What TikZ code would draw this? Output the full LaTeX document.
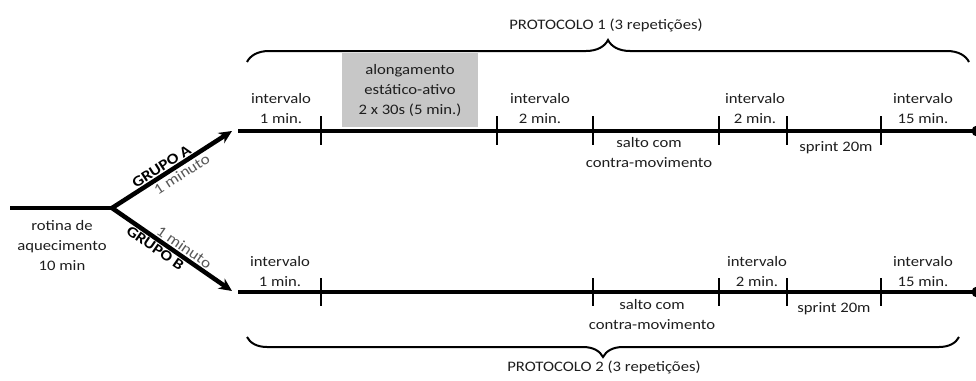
\documentclass[tikz,border=0pt]{standalone}
\usepackage{fontspec}
\setmainfont{Carlito}[FakeStretch=1.15]
\usetikzlibrary{arrows.meta,decorations.pathreplacing}
\definecolor{boxgray}{RGB}{199,199,199}
\definecolor{txtgray}{RGB}{30,30,30}

\begin{document}
\begin{tikzpicture}[x=1pt,y=-1pt,
    lbl/.style={font=\fontsize{14.5}{20}\selectfont, text=txtgray, align=center, inner sep=0pt},
    grp/.style={font=\fontsize{15}{17}\selectfont\bfseries, inner sep=1pt},
    sub/.style={font=\fontsize{15}{17}\selectfont, text=black!65, inner sep=1.5pt},
    timeline/.style={line width=4.5pt},
    tick/.style={line width=2.5pt},
    grparrow/.style={line width=4.5pt, line cap=round, -{Stealth[length=13pt,width=12pt]}},
    brace/.style={decorate, decoration={brace, amplitude=#1}, line width=2pt}]
    \useasboundingbox (0,0) rectangle (976,380);

    % Punkte
    \coordinate (warmstart) at (10,208);
    \coordinate (branch) at (112,208);
    \coordinate (tipA) at (232,131);
    \coordinate (tipB) at (232,291);
    \coordinate (startA) at (238,131);
    \coordinate (endA) at (977,131);
    \coordinate (startB) at (238,292);
    \coordinate (endB) at (977,292);

    % Aufwaermen und Gruppen
    \draw[timeline] (warmstart) -- (branch);
    \node[lbl] (warmup) at (62,246) {rotina de\\aquecimento\\10 min};
    \draw[grparrow] (branch) -- node[grp, sloped, above, pos=0.45] (grpA) {GRUPO A}
        node[sub, sloped, below, pos=0.54] (minA) {1 minuto} (tipA);
    \draw[grparrow] (branch) -- node[sub, sloped, above, pos=0.56] (minB) {1 minuto}
        node[grp, sloped, below, pos=0.40] (grpB) {GRUPO B} (tipB);

    % Zeitleisten
    \draw[timeline] (startA) -- (endA);
    \draw[timeline] (startB) -- (endB);
    \fill (endA) circle (5.5pt);
    \fill (endB) circle (5.5pt);
    \foreach \x in {321,497,593,719,787,881} {
        \draw[tick] (\x,116) -- (\x,145);
    }
    \foreach \x in {321,593,719,787,881} {
        \draw[tick] (\x,278) -- (\x,306);
    }

    % Protokoll 1
    \node[lbl, fill=boxgray, minimum width=136pt, minimum height=74pt] (stretchA) at (410,90)
        {alongamento\\estático-ativo\\2 x 30s (5 min.)};
    \node[lbl] (pauseA1) at (281,109) {intervalo\\1 min.};
    \node[lbl] (pauseA2) at (540,109) {intervalo\\2 min.};
    \node[lbl] (pauseA3) at (755,109) {intervalo\\2 min.};
    \node[lbl] (pauseA4) at (923,109) {intervalo\\15 min.};
    \node[lbl] (jumpA) at (649,153) {salto com\\contra-movimento};
    \node[lbl] (sprintA) at (836,148) {sprint 20m};

    % Protokoll 2
    \node[lbl] (pauseB1) at (280,272) {intervalo\\1 min.};
    \node[lbl] (pauseB3) at (757,272) {intervalo\\2 min.};
    \node[lbl] (pauseB4) at (923,272) {intervalo\\15 min.};
    \node[lbl] (jumpB) at (652,315) {salto com\\contra-movimento};
    \node[lbl] (sprintB) at (834,309) {sprint 20m};

    % Klammern
    \coordinate (braceAl) at (247,62);
    \coordinate (braceAr) at (969,62);
    \coordinate (braceBl) at (247,337);
    \coordinate (braceBr) at (959,337);
    \draw[brace=22pt] (braceAl) -- (braceAr);
    \draw[brace=20pt] (braceBr) -- (braceBl);
    \node[lbl] (protA) at (606,25) {PROTOCOLO 1 (3 repetições)};
    \node[lbl] (protB) at (604,367) {PROTOCOLO 2 (3 repetições)};
\end{tikzpicture}
\end{document}
